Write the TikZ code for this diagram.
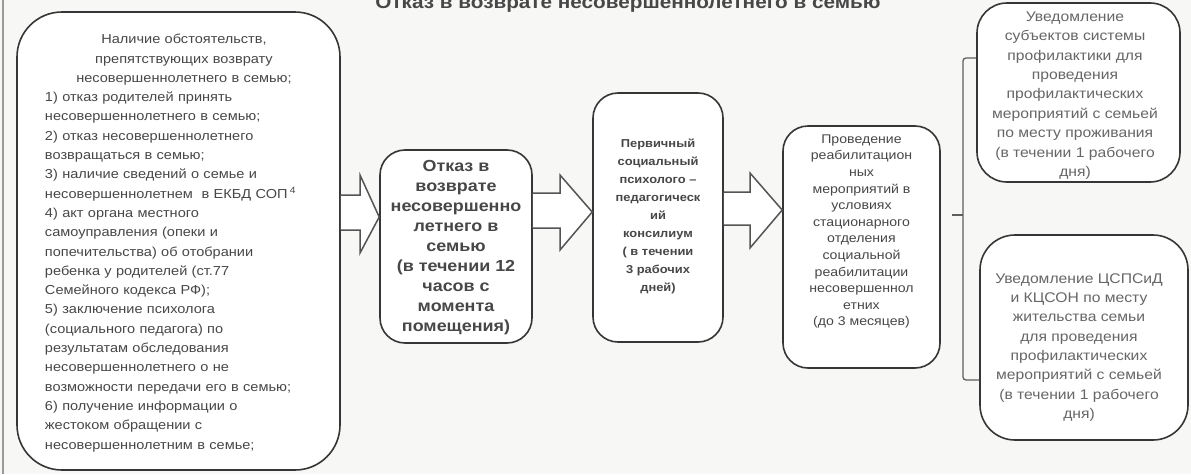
\documentclass[tikz,border=0pt]{standalone}
\usepackage{fontspec}
\setmainfont{Liberation Sans}[FakeStretch=1.12]
\usetikzlibrary{calc}
\definecolor{edge}{HTML}{363636}
\definecolor{txt}{HTML}{474747}
\definecolor{txtl}{HTML}{666666}
\definecolor{paper}{HTML}{F7F7F5}
\tikzset{
  box/.style={draw=edge, line width=1.6pt, rounded corners=#1, inner sep=0pt, fill=white},
  btext/.style={inner sep=0pt, align=center, text=txt},
  barrow/.style={draw=edge!85, line width=1.5pt, fill=white, line join=miter},
  brack/.style={draw=edge!80, line width=1.3pt},
}
\begin{document}
\begin{tikzpicture}[x=1pt,y=-1pt]
\useasboundingbox (0,0) rectangle (1191,474);
\fill[paper] (0,0) rectangle (1191,474);
\coordinate (edgeT) at (3,0);
\coordinate (edgeB) at (3,474);
\draw[gray!80, line width=1.2pt] (edgeT) -- (edgeB);

% title (cut off at the top, as in the reference)
\node[anchor=base, text=txt, font=\bfseries\fontsize{18.5}{20}\selectfont, inner sep=0pt] (title) at (628,8.5) {Отказ в возврате несовершеннолетнего в семью};

% boxes
\node[box=45pt, minimum width=323pt, minimum height=458pt] (L) at (178.5,241) {};
\node[box=25pt, minimum width=152pt, minimum height=193pt] (b2) at (456,246.5) {};
\node[box=25pt, minimum width=130pt, minimum height=249pt] (b3) at (658,217.5) {};
\node[box=25pt, minimum width=157pt, minimum height=242pt] (b4) at (861.5,247) {};
\node[box=30pt, minimum width=203pt, minimum height=179pt] (b5) at (1078.5,92.5) {};
\node[box=35pt, minimum width=208pt, minimum height=205pt] (b6) at (1084,337.5) {};

% texts
\node[inner sep=0pt, text=txt, text width=278pt, font=\fontsize{13}{19.3}\selectfont] (Lt) at (184,243) {\centering
Наличие обстоятельств,\\препятствующих возврату\\несовершеннолетнего в семью;\par
\raggedright 1) отказ родителей принять\\несовершеннолетнего в семью;\\2) отказ несовершеннолетнего\\возвращаться в семью;\\3) наличие сведений о семье и\\несовершеннолетнем~ в ЕКБД СОП\,\textsuperscript{4}\\4) акт органа местного\\самоуправления (опеки и\\попечительства) об отобрании\\ребенка у родителей (ст.77\\Семейного кодекса РФ);\\5) заключение психолога\\(социального педагога) по\\результатам обследования\\несовершеннолетнего о не\\возможности передачи его в семью;\\6) получение информации о\\жестоком обращении с\\несовершеннолетним в семье;\par};

\node[btext, font=\bfseries\fontsize{16}{19.9}\selectfont] (b2t) at (456,247.5) {Отказ в\\возврате\\несовершенно\\летнего в\\семью\\(в течении 12\\часов с\\момента\\помещения)};

\node[btext, font=\bfseries\fontsize{11.5}{17.9}\selectfont] (b3t) at (658,216.5) {Первичный\\социальный\\психолого –\\педагогическ\\ий\\консилиум\\( в течении\\3 рабочих\\дней)};

\node[btext, font=\fontsize{12.6}{16.6}\selectfont] (b4t) at (861.5,231.5) {Проведение\\реабилитацион\\ных\\мероприятий в\\условиях\\стационарного\\отделения\\социальной\\реабилитации\\несовершеннол\\етних\\(до 3 месяцев)};

\node[btext, text=txtl, font=\fontsize{14}{19.4}\selectfont] (b5t) at (1075,95.5) {Уведомление\\субъектов системы\\профилактики для\\проведения\\профилактических\\мероприятий с семьей\\по месту проживания\\(в течении 1 рабочего\\дня)};

\node[btext, text=txtl, font=\fontsize{14}{19.3}\selectfont] (b6t) at (1079,347.5) {Уведомление ЦСПСиД\\и КЦСОН по месту\\жительства семьи\\для проведения\\профилактических\\мероприятий с семьей\\(в течении 1 рабочего\\дня)};

% block arrows
\draw[barrow] (L.east |- 0,195) -- (360,195) -- (360,175) -- (b2.west |- 0,217) -- (360,253) -- (360,230) -- (L.east |- 0,230);
\draw[barrow] (b2.east |- 0,193) -- (560,193) -- (560,175) -- (b3.west |- 0,212) -- (560,250) -- (560,228) -- (b2.east |- 0,228);
\draw[barrow] (b3.east |- 0,192) -- (750,192) -- (750,173) -- (b4.west |- 0,210) -- (750,248) -- (750,225) -- (b3.east |- 0,225);

% bracket
\coordinate (brkL) at (952,215);
\coordinate (brkM) at (963,215);
\draw[brack] (brkL) -- (brkM);
\draw[brack, rounded corners=3pt] (b5.west |- 0,58) -| (brkM) |- (b6.west |- 0,380);
\end{tikzpicture}
\end{document}
